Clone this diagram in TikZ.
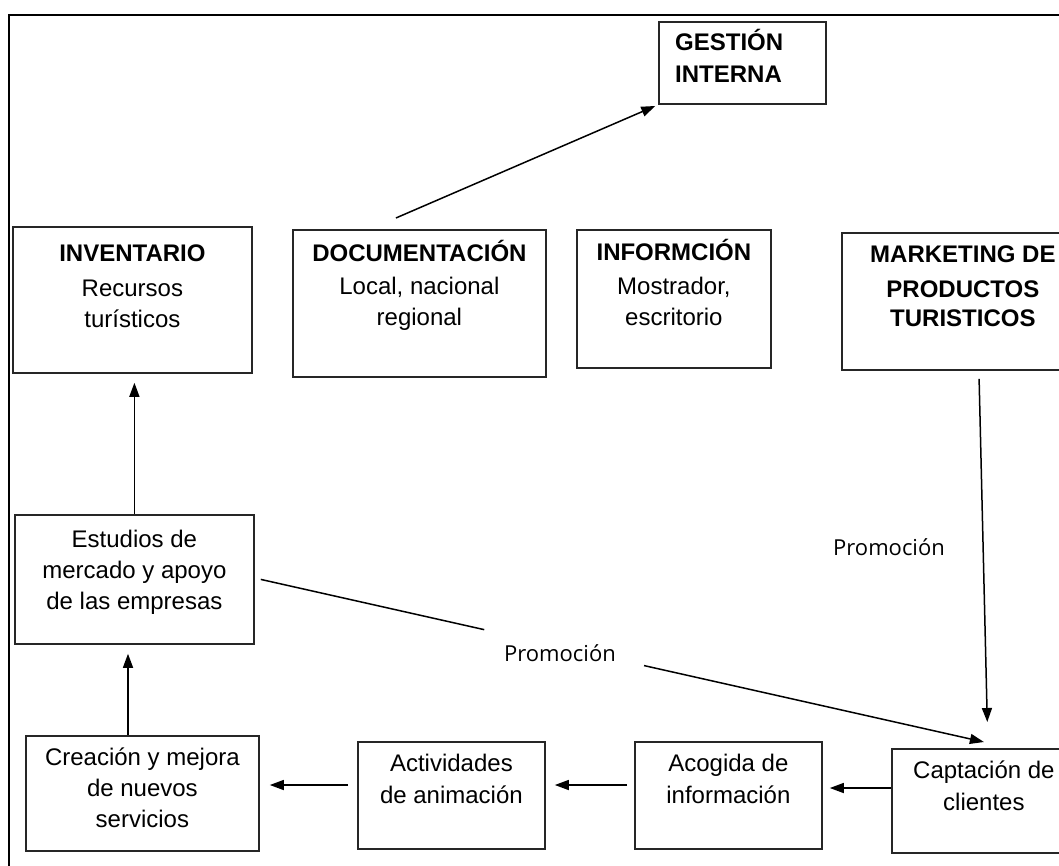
\documentclass[tikz,border=0pt]{standalone}
\usepackage{fontspec}
\setmainfont{Liberation Sans}
\newfontfamily\promofont{Open Sans}
\usetikzlibrary{arrows.meta}
\begin{document}
\begin{tikzpicture}[x=1pt,y=-1pt,
  box/.style={draw, line width=1.8pt, draw=black!85, anchor=north west, inner sep=0pt},
  txt/.style={align=center, anchor=north, inner sep=0pt, font=\fontsize{24}{31}\selectfont},
  lbl/.style={font=\promofont\fontsize{22}{26}\selectfont, inner sep=0pt},
  arr/.style={line width=1.5pt, -{Triangle[length=14pt,width=10pt]}},
  ln/.style={line width=1.5pt}]
\useasboundingbox (0,0) rectangle (1059,865);
\clip (0,0) rectangle (1059,865);
% outer frame
\draw[line width=2.2pt] (9,900) -- (9,15) -- (1100,15);
% boxes
\node[box, minimum width=167pt, minimum height=82pt]  (gest)  at (658,21)  {};
\node[box, minimum width=239pt, minimum height=146pt] (inv)   at (12,226)  {};
\node[box, minimum width=253pt, minimum height=147pt] (doc)   at (292,229) {};
\node[box, minimum width=194pt, minimum height=138pt] (info)  at (576,229) {};
\node[box, minimum width=242pt, minimum height=137pt] (mkt)   at (841,232) {};
\node[box, minimum width=239pt, minimum height=129pt] (est)   at (14,514)  {};
\node[box, minimum width=233pt, minimum height=115pt] (crea)  at (25,735)  {};
\node[box, minimum width=187pt, minimum height=107pt] (activ) at (357,741) {};
\node[box, minimum width=187pt, minimum height=107pt] (acog)  at (634,741) {};
\node[box, minimum width=184pt, minimum height=104pt] (capt)  at (891,748) {};
% texts
\node[txt, align=left, anchor=north west] (gestt) at (675,27.6) {\rule{0pt}{23pt}\textbf{GESTIÓN}\\[1pt]\textbf{INTERNA}};
\node[txt] (invt) at (inv.north |- 0,238.6) {\rule{0pt}{23pt}\textbf{INVENTARIO}\\[4pt]Recursos\\turísticos};
\node[txt] (doct) at (doc.north |- 0,238.6) {\rule{0pt}{23pt}\textbf{DOCUMENTACIÓN}\\[2pt]Local, nacional\\regional};
\node[txt] (infot) at (info.north |- 0,237.6) {\rule{0pt}{23pt}\textbf{INFORMCIÓN}\\[3pt]Mostrador,\\escritorio};
\node[txt] (mktt) at (mkt.north |- 0,239.6) {\rule{0pt}{23pt}\textbf{MARKETING DE}\\[4pt]\textbf{PRODUCTOS}\\[-2pt]\textbf{TURISTICOS}};
\node[txt] (estt) at (est.north |- 0,524.6) {\rule{0pt}{23pt}Estudios de\\mercado y apoyo\\de las empresas};
\node[txt] (creat) at (crea.north |- 0,742.6) {\rule{0pt}{23pt}Creación y mejora\\de nuevos\\servicios};
\node[txt] (activt) at (activ.north |- 0,748.6) {\rule{0pt}{23pt}Actividades\\[1pt]de animación};
\node[txt] (acogt) at (acog.north |- 0,748.6) {\rule{0pt}{23pt}Acogida de\\[1pt]información};
\node[txt] (captt) at (capt.north |- 0,755.6) {\rule{0pt}{23pt}Captación de\\[1pt]clientes};
% labels
\node[lbl] (promo1) at (560,653) {Promoción};
\node[lbl] (promo2) at (889,547) {Promoción};
% connectors
\draw[arr, shorten >=3pt] ([xshift=-23.5pt,yshift=11pt]doc.north) -- (gest.south west);
\draw[arr, shorten >=9pt] (est.north) -- (est.north |- inv.south);
\coordinate (c128) at (128,0);
\draw[arr, shorten >=9pt] (crea.north -| c128) -- (est.south -| c128);
\coordinate (r1) at (0,785);
\coordinate (r2) at (0,788);
\draw[arr, shorten <=7pt, shorten >=9pt] (acog.west |- r1) -- (activ.east |- r1);
\draw[arr, shorten <=9pt, shorten >=10pt] (activ.west |- r1) -- (crea.east |- r1);
\draw[arr, shorten >=7pt] (capt.west |- r2) -- (acog.east |- r2);
\draw[arr, shorten <=8pt, shorten >=26pt] ([xshift=16pt]mkt.south) -- ([xshift=4pt]capt.north);
\path ([xshift=6pt]est.east) -- ([yshift=6pt]capt.north)
  coordinate[pos=0.309] (g1) coordinate[pos=0.53] (g2);
\draw[ln] ([xshift=6pt]est.east) -- (g1);
\draw[arr] (g2) -- ([yshift=6pt]capt.north);
\end{tikzpicture}
\end{document}
